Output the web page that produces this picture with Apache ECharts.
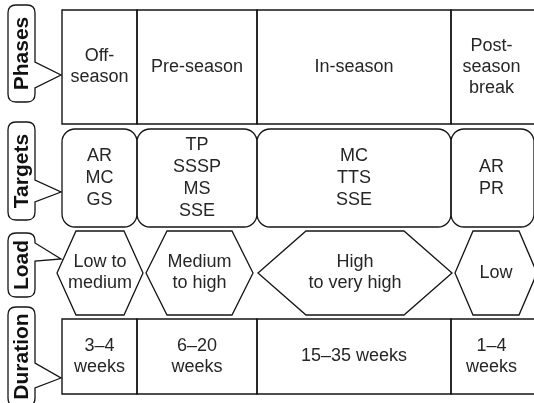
<!DOCTYPE html>
<html>
<head>
<meta charset="utf-8">
<script src="https://cdn.jsdelivr.net/npm/echarts@6/dist/echarts.min.js"></script>
<style>
    html, body { margin: 0; padding: 0; background: #fff; }
    #chart { width: 534px; height: 403px; }
</style>
</head>
<body>
<div id="chart"></div>
<script>
// 行名称
var rowNames = ['Phases', 'Targets', 'Load', 'Duration'];

// 每一行的内容
var phases = ['Off-\nseason', 'Pre-season', 'In-season', 'Post-\nseason\nbreak'];
var targets = ['AR\nMC\nGS', 'TP\nSSSP\nMS\nSSE', 'MC\nTTS\nSSE', 'AR\nPR'];
var loads = ['Low to\nmedium', 'Medium\nto high', 'High\nto very high', 'Low'];
var durations = ['3–4\nweeks', '6–20\nweeks', '15–35 weeks', '1–4\nweeks'];

var rows = [phases, targets, loads, durations];

// 布局 (坐标轴单位 = 像素)
var colEdges = [62, 137, 257, 451, 532];
var rowBands = [[10, 124], [129, 227], [231, 315], [319, 394]];
var hexSpans = [[57, 143, 19], [146, 253, 21], [258, 452, 48], [455, 537, 18]];
// 左侧标签: 上, 下, 箭头起点, 箭头终点, 箭头尖y
var tagBoxes = [[5, 102, 62, 88, 75], [122, 220, 180, 202, 192], [233, 297, 243, 261, 259], [307, 406, 363, 388, 378]];
var tagLeft = 8, tagRight = 35, tagTip = 61;

var LINE = '#151515';
var TEXT = '#262626';
var FONT = '18px "Liberation Sans", Arial, sans-serif';

var cellData = [];
rows.forEach(function (list, r) {
    list.forEach(function (t, c) {
        cellData.push([c, r]);
    });
});
var tagData = rowNames.map(function (n, i) { return [0, i]; });

function cellRender(params, api) {
    var c = api.value(0), r = api.value(1);
    var band = rowBands[r];
    var last = c === colEdges.length - 2;
    var p0 = api.coord([colEdges[c], band[0]]);
    var p1 = api.coord([colEdges[c + 1], band[1]]);
    var text = rows[r][c];
    var shape, cx = (p0[0] + p1[0]) / 2, cy = (p0[1] + p1[1]) / 2;
    var lh = 21;

    if (r === 0 || r === 3) {
        shape = {
            type: 'rect',
            shape: { x: p0[0], y: p0[1], width: p1[0] - p0[0] + (last ? 14 : 0), height: p1[1] - p0[1] },
            style: { fill: 'none', stroke: LINE, lineWidth: 1.4 }
        };
    } else if (r === 1) {
        lh = 22;
        shape = {
            type: 'rect',
            shape: { x: p0[0], y: p0[1], width: p1[0] - p0[0] + (last ? 2 : 0), height: p1[1] - p0[1], r: 13 },
            style: { fill: 'none', stroke: LINE, lineWidth: 1.3 }
        };
    } else {
        var h = hexSpans[c];
        var a = api.coord([h[0], band[0]]);
        var b = api.coord([h[1], band[1]]);
        var my = (a[1] + b[1]) / 2;
        shape = {
            type: 'polygon',
            shape: {
                points: [
                    [a[0], my], [a[0] + h[2], a[1]], [b[0] - h[2], a[1]],
                    [b[0], my], [b[0] - h[2], b[1]], [a[0] + h[2], b[1]]
                ]
            },
            style: { fill: 'none', stroke: LINE, lineWidth: 1.3 }
        };
        cx = (a[0] + b[0]) / 2;
    }

    return {
        type: 'group',
        children: [shape, {
            type: 'text',
            style: {
                text: text, x: cx, y: cy,
                align: 'center', verticalAlign: 'middle',
                font: FONT, lineHeight: lh, fill: TEXT
            }
        }]
    };
}

function tagRender(params, api) {
    var r = api.value(1);
    var t = tagBoxes[r];
    var tl = api.coord([tagLeft, t[0]]);
    var br = api.coord([tagRight, t[1]]);
    var pa = api.coord([tagRight, t[2]]);
    var pb = api.coord([tagRight, t[3]]);
    var tip = api.coord([tagTip, t[4]]);
    var x0 = tl[0], y0 = tl[1], x1 = br[0], y1 = br[1], k = 8;
    var d = 'M' + (x0 + k) + ' ' + y0 +
        ' L' + (x1 - k) + ' ' + y0 +
        ' Q' + x1 + ' ' + y0 + ' ' + x1 + ' ' + (y0 + k) +
        ' L' + x1 + ' ' + pa[1] +
        ' L' + tip[0] + ' ' + tip[1] +
        ' L' + x1 + ' ' + pb[1] +
        ' L' + x1 + ' ' + (y1 - k) +
        ' Q' + x1 + ' ' + y1 + ' ' + (x1 - k) + ' ' + y1 +
        ' L' + (x0 + k) + ' ' + y1 +
        ' Q' + x0 + ' ' + y1 + ' ' + x0 + ' ' + (y1 - k) +
        ' L' + x0 + ' ' + (y0 + k) +
        ' Q' + x0 + ' ' + y0 + ' ' + (x0 + k) + ' ' + y0 + ' Z';
    return {
        type: 'group',
        children: [{
            type: 'path',
            shape: { pathData: d },
            style: { fill: '#fff', stroke: LINE, lineWidth: 1.3 }
        }, {
            type: 'text',
            x: (x0 + x1) / 2 + 0.5,
            y: (y0 + y1) / 2,
            rotation: Math.PI / 2,
            style: {
                text: rowNames[r], x: 0, y: 0,
                align: 'center', verticalAlign: 'middle',
                font: 'bold 21px "Liberation Sans", Arial, sans-serif',
                fill: '#111'
            }
        }]
    };
}

var chart = echarts.init(document.getElementById('chart'));
var option = {
    animation: false,
    grid: { left: 0, right: 0, top: 0, bottom: 0 },
    xAxis: { type: 'value', min: 0, max: 534, show: false },
    yAxis: { type: 'value', min: 0, max: 403, inverse: true, show: false },
    series: [
        { type: 'custom', renderItem: cellRender, data: cellData, clip: false, silent: true },
        { type: 'custom', renderItem: tagRender, data: tagData, clip: false, silent: true }
    ]
};
chart.setOption(option);
</script>
</body>
</html>
